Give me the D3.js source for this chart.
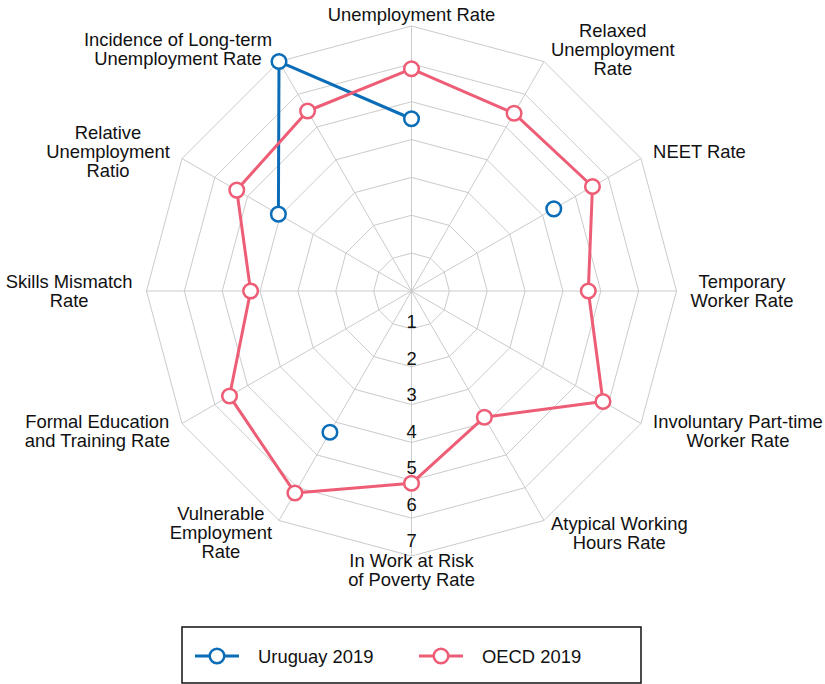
<!DOCTYPE html>
<html>
<head>
<meta charset="utf-8">
<script src="https://cdn.jsdelivr.net/npm/d3@7"></script>
<style>
  html, body { margin: 0; padding: 0; background: #fff; }
  svg { display: block; font-family: "Liberation Sans", Arial, sans-serif; }
</style>
</head>
<body>
<svg id="chart" width="825" height="684"></svg>
<script>
// axis labels, clockwise from the top
var categories = [
  ["Unemployment Rate"],
  ["Relaxed", "Unemployment", "Rate"],
  ["NEET Rate"],
  ["Temporary", "Worker Rate"],
  ["Involuntary Part-time", "Worker Rate"],
  ["Atypical Working", "Hours Rate"],
  ["In Work at Risk", "of Poverty Rate"],
  ["Vulnerable", "Employment", "Rate"],
  ["Formal Education", "and Training Rate"],
  ["Skills Mismatch", "Rate"],
  ["Relative", "Unemployment", "Ratio"],
  ["Incidence of Long-term", "Unemployment Rate"]
];
var ticks = [1, 2, 3, 4, 5, 6, 7];
var uruguay = [4.55, null, 4.34, null, null, null, null, 4.31, null, null, 4.06, 7.0];
var oecd = [5.87, 5.42, 5.52, 4.67, 5.84, 3.85, 5.08, 6.16, 5.55, 4.25, 5.33, 5.49];
var seriesNames = ["Uruguay 2019", "OECD 2019"];
var colors = ["#0b6db7", "#ee5d76"];

var svg = d3.select("#chart");
var cx = 411.5, cy = 291;
var n = categories.length;
var fs = 18.4;
var r = d3.scaleLinear().domain([0, 7]).range([0, 265]);
function ang(i) { return i * 2 * Math.PI / n; }
function px(i, v) { return cx + r(v) * Math.sin(ang(i)); }
function py(i, v) { return cy - r(v) * Math.cos(ang(i)); }

var grid = svg.append("g").attr("fill", "none").attr("stroke", "#cbcbcb").attr("stroke-width", 1);
ticks.forEach(function(t) {
  var pts = d3.range(n).map(function(i) { return [px(i, t), py(i, t)]; });
  grid.append("polygon").attr("points", pts.map(function(p) { return p.join(","); }).join(" "));
});
d3.range(n).forEach(function(i) {
  grid.append("line").attr("x1", cx).attr("y1", cy)
    .attr("x2", px(i, 7)).attr("y2", py(i, 7));
});

// radial tick labels down the bottom spoke
svg.append("g").selectAll("text").data(ticks).enter().append("text")
  .attr("x", cx)
  .attr("y", function(d) { return cy + r(d) * 0.965 - 6; })
  .attr("text-anchor", "middle")
  .attr("dominant-baseline", "central")
  .attr("font-size", fs)
  .attr("fill", "#111")
  .text(function(d) { return d; });

// category labels
var lh = 19;
categories.forEach(function(lines, i) {
  var a = ang(i), s = Math.sin(a), c = Math.cos(a);
  var ax = cx + 279 * s, ay = cy - 279 * c;
  if (Math.abs(s) < 0.01) ay += c > 0 ? 2 : 0;
  var t = svg.append("text").attr("font-size", fs).attr("fill", "#111").attr("text-anchor", "middle");
  var spans = lines.map(function(l, k) {
    return t.append("tspan").attr("dominant-baseline", "central")
      .attr("y", ay + (k - (lines.length - 1) / 2) * lh).text(l);
  });
  var w = d3.max(spans, function(sp) { return sp.node().getComputedTextLength(); });
  var dx = Math.abs(s) < 0.01 ? 0 : (s > 0 ? 1 : -1) * w / 2;
  spans.forEach(function(sp) { sp.attr("x", ax + dx); });
});

// series
[uruguay, oecd].forEach(function(vals, si) {
  var idx = d3.range(n + 1).map(function(i) { return i % n; });
  var line = d3.line()
    .defined(function(i) { return vals[i] != null; })
    .x(function(i) { return px(i, vals[i]); })
    .y(function(i) { return py(i, vals[i]); });
  var g = svg.append("g");
  g.append("path").datum(idx).attr("d", line)
    .attr("fill", "none").attr("stroke", colors[si]).attr("stroke-width", 3)
    .attr("stroke-linejoin", "round");
  g.selectAll("circle").data(d3.range(n).filter(function(i) { return vals[i] != null; }))
    .enter().append("circle")
    .attr("cx", function(i) { return px(i, vals[i]); })
    .attr("cy", function(i) { return py(i, vals[i]); })
    .attr("r", 7.3)
    .attr("fill", "#fff").attr("stroke", colors[si]).attr("stroke-width", 2.5);
});

// legend
var lg = svg.append("g");
lg.append("rect").attr("x", 182).attr("y", 627).attr("width", 459).attr("height", 56)
  .attr("fill", "#fff").attr("stroke", "#111").attr("stroke-width", 1.5);
var legX = [195, 419];
seriesNames.forEach(function(name, si) {
  var x0 = legX[si], y0 = 656;
  lg.append("line").attr("x1", x0).attr("x2", x0 + 44).attr("y1", y0).attr("y2", y0)
    .attr("stroke", colors[si]).attr("stroke-width", 3);
  lg.append("circle").attr("cx", x0 + 22).attr("cy", y0).attr("r", 7.3)
    .attr("fill", "#fff").attr("stroke", colors[si]).attr("stroke-width", 2.5);
  lg.append("text").attr("x", x0 + 63).attr("y", y0).attr("dominant-baseline", "central")
    .attr("font-size", fs).attr("fill", "#111").text(name);
});
</script>
</body>
</html>
